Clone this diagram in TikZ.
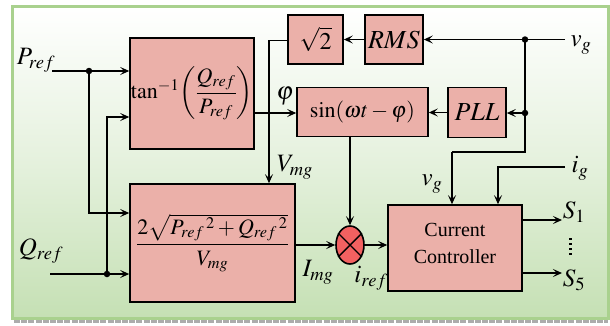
\documentclass[tikz,border=0pt]{standalone}
\usepackage{amsmath}
\usepackage{mathptmx}
\usepackage{fontspec}
\setmainfont{Liberation Serif}
\newfontfamily\ccfont{Liberation Serif}
\usetikzlibrary{arrows.meta,shapes.geometric,calc}
\definecolor{bggreen}{HTML}{C5E0B4}
\definecolor{bordergreen}{HTML}{A9D18E}
\definecolor{blockfill}{HTML}{EBB0A9}
\definecolor{multfill}{HTML}{F26161}
\tikzset{
  blk/.style={draw=black, line width=1.6pt, fill=blockfill, inner sep=0pt, anchor=center},
  wire/.style={line width=1.8pt},
  arr/.style={wire, -{Stealth[length=9pt,width=8pt,inset=4pt]}},
  dot/.style={circle, fill=black, inner sep=0pt, minimum size=6.5pt},
  smalldot/.style={rectangle, fill=black, inner sep=0pt, minimum size=2.6pt},
  lbl/.style={inner sep=0pt, font=\fontsize{25}{28}\selectfont},
  mth/.style={font=\fontsize{22}{26}\selectfont}
}
\begin{document}
\begin{tikzpicture}[x=1pt,y=-1pt]
\useasboundingbox (0,0) rectangle (610,325);
% background
\shade[top color=white, bottom color=bggreen, middle color=white!55!bggreen] (12,6) rectangle (608,318);
\draw[bordergreen, line width=3pt] (12,6) rectangle (608,318);
\draw[gray!65, line width=3pt, dash pattern=on 6pt off 1.2pt] (14,321.5) -- (608,321.5);

% blocks
\node[blk, mth, minimum width=124pt, minimum height=111pt] (tan) at (192,93.5)
  {$\tan^{-1}\!\left(\dfrac{Q_{ref}}{P_{ref}}\right)$};
\node[blk, minimum width=55pt, minimum height=49pt, font=\fontsize{24}{28}\selectfont] (sq) at (315.5,39.5) {$\sqrt{2}$};
\node[blk, minimum width=58pt, minimum height=49pt, font=\fontsize{26}{30}\selectfont] (rms) at (394,39.5) {$RMS$};
\node[blk, mth, minimum width=131pt, minimum height=49pt] (sin) at (362.5,112) {$\sin(\omega t-\varphi)$};
\node[blk, minimum width=58pt, minimum height=50pt, font=\fontsize{26}{30}\selectfont] (pll) at (477,112.5) {$PLL$};
\node[blk, mth, minimum width=165pt, minimum height=118pt] (pow) at (212.5,243)
  {$\dfrac{2\sqrt{P_{ref}{}^{\,2}+Q_{ref}{}^{\,2}}}{V_{mg}}$};
\node[blk, minimum width=134pt, minimum height=86pt] (cc) at (455,248) {};
\node[inner sep=0pt, align=center, font=\ccfont\fontsize{20}{27}\selectfont] (cctext) at (455,243) {Current\\Controller};
\node[ellipse, draw=black, line width=1.6pt, fill=multfill, minimum width=28pt, minimum height=38pt, inner sep=0pt] (mult) at (350,245) {};
\draw[line width=1.4pt] (mult.45) -- (mult.225) (mult.135) -- (mult.315);

% coordinates
\coordinate (pin) at (52,71);
\coordinate (qin) at (50,274);
\coordinate (vin) at (565,39.5);
\coordinate (igin) at (565,167);
\coordinate (s1) at (562,220);
\coordinate (s5) at (562,273);
\node[dot] (dP) at (89,71) {};
\node[dot] (dQ) at (107,274) {};
\node[dot] (dv1) at (525,39.5) {};
\node[dot] (dv2) at (525,113) {};
\coordinate (vmgc) at (269,40.5);
\coordinate (vgc) at (525,152);
\coordinate (vgc2) at (452,152);
\coordinate (igc) at (498,167);

% connectors
\draw[arr] (pin) -- (pin -| tan.west);
\draw[arr] (dP.center) |- (pow.west |- 0,213);
\draw[arr] (qin) -- (qin -| pow.west);
\draw[arr] (dQ.center) |- (tan.west |- 0,117);
\draw[arr] (tan.east |- 0,113) -- (sin.west |- 0,113);
\draw[arr] (sq.west |- vmgc) -- (vmgc) -- (vmgc |- pow.north);
\draw[arr] (rms.west) -- (sq.east);
\draw[arr] (vin) -- (vin -| rms.east);
\draw[wire] (dv1.center) -- (vgc) -- (vgc2);
\draw[arr] (vgc2) -- (vgc2 |- cc.north);
\draw[arr] (dv2.center) -- (dv2 -| pll.east);
\draw[arr] (pll.west) -- (pll.west -| sin.east);
\draw[arr] (sin.south -| mult) -- (mult.north);
\draw[arr] (pow.east |- mult) -- (mult.west);
\draw[arr] (mult.east) -- (mult -| cc.west);
\draw[arr] (igin) -- (igc) -- (igc |- cc.north);
\draw[arr] (cc.east |- s1) -- (s1);
\draw[arr] (cc.east |- s5) -- (s5);

% labels
\node[lbl] (lP) at (36,60) {$P_{ref}$};
\node[lbl] (lQ) at (41,251) {$Q_{ref}$};
\node[lbl] (lphi) at (285,96) {$\varphi$};
\node[lbl] (lV) at (295,167) {$V_{mg}$};
\node[lbl] (lI) at (318,272) {$I_{mg}$};
\node[lbl] (liref) at (371,278) {$i_{ref}$};
\node[lbl] (lvg) at (432,184) {$v_{g}$};
\node[lbl] (lvg2) at (581,45) {$v_{g}$};
\node[lbl] (lig) at (580,168) {$i_{g}$};
\node[lbl] (lS1) at (574,212) {$S_{1}$};
\node[lbl] (lS5) at (574,280) {$S_{5}$};
\node[smalldot] (v1) at (570.7,239) {};
\node[smalldot] (v2) at (570.7,244) {};
\node[smalldot] (v3) at (570.7,249) {};
\node[smalldot] (v4) at (570.7,254) {};
\end{tikzpicture}
\end{document}
